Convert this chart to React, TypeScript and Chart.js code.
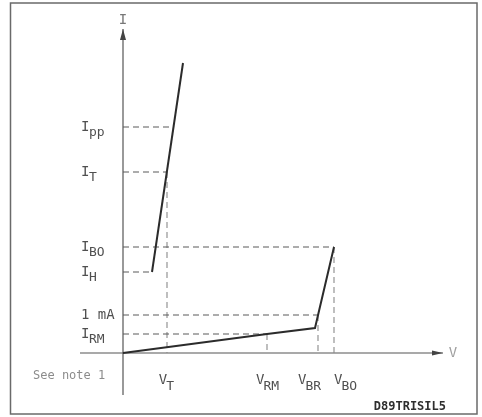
import { useEffect, useRef } from "react";
import { Chart, registerables } from "chart.js";

Chart.register(...registerables);

// ---- Data (schematic units: V along x, I along y) ----
const offStateV = [0, 14.4, 19.2, 21.1];
const offStateI = [0, 1.9, 2.5, 10.6];
const onStateV = [2.9, 6.0];
const onStateI = [8.1, 29.0];

const currentSubs = ["pp", "T", "BO", "H", "", "RM"];
const currentMain = ["I", "I", "I", "I", "1 mA", "I"];
const currentLevels = [22.6, 18.1, 10.6, 8.1, 3.8, 1.9];
const currentEndV = [5.05, 4.4, 21.1, 2.9, 19.5, 14.4];

const voltageSubs = ["T", "RM", "BR", "BO"];
const voltageLevels = [4.4, 14.4, 19.5, 21.1];
const voltageStartI = [18.1, 1.9, 3.8, 10.6];

const xAxisExtent = [-4.3, 32.0];
const yAxisExtent = [-4.2, 32.4];

// label nudges (pixels) so the V labels do not collide
const voltageLabelNudge = [0, 1, -8, 12];

const FONT = '"DejaVu Sans Mono", "Liberation Mono", monospace';

export default function App() {
  const ref = useRef<HTMLCanvasElement | null>(null);

  useEffect(() => {
    if (!ref.current) return;
    const curveStyle = { borderColor: "#2b2b2b", borderWidth: 2 };
    const datasets: any[] = [];
    datasets.push({
      data: offStateV.map((v, i) => ({ x: v, y: offStateI[i] })),
      ...curveStyle,
    });
    datasets.push({
      data: onStateV.map((v, i) => ({ x: v, y: onStateI[i] })),
      ...curveStyle,
    });
    currentLevels.forEach((lvl, i) => {
      datasets.push({
        data: [
          { x: 0, y: lvl },
          { x: currentEndV[i], y: lvl },
        ],
        borderColor: "#5a5a5a",
        borderWidth: 1.2,
        borderDash: [6, 4],
      });
    });
    voltageLevels.forEach((v, i) => {
      datasets.push({
        data: [
          { x: v, y: voltageStartI[i] },
          { x: v, y: 0 },
        ],
        borderColor: "#8a8a8a",
        borderWidth: 1.1,
        borderDash: [6, 4],
      });
    });
    datasets.push({
      data: [
        { x: xAxisExtent[0], y: 0 },
        { x: xAxisExtent[1], y: 0 },
      ],
      borderColor: "#555",
      borderWidth: 1.2,
    });
    datasets.push({
      data: [
        { x: 0, y: yAxisExtent[0] },
        { x: 0, y: yAxisExtent[1] },
      ],
      borderColor: "#555",
      borderWidth: 1.2,
    });

    const decor = {
      id: "decor",
      afterDatasetsDraw(chart: any) {
        const ctx = chart.ctx as CanvasRenderingContext2D;
        const xs = chart.scales.x;
        const ys = chart.scales.y;
        const px = (v: number) => xs.getPixelForValue(v);
        const py = (v: number) => ys.getPixelForValue(v);
        const ox = px(0);
        const oy = py(0);
        ctx.save();

        // frame
        ctx.strokeStyle = "#6a6a6a";
        ctx.lineWidth = 1.5;
        ctx.strokeRect(10.5, 3, 466.5, 411);

        // arrowheads
        ctx.fillStyle = "#444";
        const yt = py(yAxisExtent[1]);
        ctx.beginPath();
        ctx.moveTo(ox, yt);
        ctx.lineTo(ox - 3, yt + 11);
        ctx.lineTo(ox + 3, yt + 11);
        ctx.closePath();
        ctx.fill();
        const xt = px(xAxisExtent[1]);
        ctx.beginPath();
        ctx.moveTo(xt, oy);
        ctx.lineTo(xt - 11, oy - 2.5);
        ctx.lineTo(xt - 11, oy + 2.5);
        ctx.closePath();
        ctx.fill();

        ctx.textBaseline = "middle";
        const MAIN = `14px ${FONT}`;
        const SUB = `13px ${FONT}`;
        // axis names
        ctx.fillStyle = "#777";
        ctx.font = MAIN;
        ctx.textAlign = "center";
        ctx.fillText("I", ox, 20);
        ctx.fillStyle = "#a0a0a0";
        ctx.fillText("V", xt + 10, oy);

        // current labels
        ctx.textAlign = "left";
        ctx.fillStyle = "#505050";
        currentLevels.forEach((lvl, i) => {
          const y = py(lvl);
          ctx.font = MAIN;
          ctx.fillText(currentMain[i], ox - 42, y);
          if (currentSubs[i]) {
            ctx.font = SUB;
            ctx.fillText(currentSubs[i], ox - 34, y + 6);
          }
        });

        // voltage labels
        voltageLevels.forEach((v, i) => {
          ctx.font = MAIN;
          const w1 = ctx.measureText("V").width;
          ctx.font = SUB;
          const w2 = ctx.measureText(voltageSubs[i]).width;
          const cx = px(v) + voltageLabelNudge[i];
          const left = cx - (w1 + w2) / 2;
          ctx.font = MAIN;
          ctx.fillText("V", left, 380);
          ctx.font = SUB;
          ctx.fillText(voltageSubs[i], left + w1 - 1, 387);
        });

        // notes
        ctx.fillStyle = "#8c8c8c";
        ctx.font = `12px ${FONT}`;
        ctx.fillText("See note 1", 33, 376);
        ctx.fillStyle = "#2e2e2e";
        ctx.font = `bold 12px ${FONT}`;
        ctx.textAlign = "right";
        ctx.fillText("D89TRISIL5", 446, 407);
        ctx.restore();
      },
    };

    const chart = new Chart(ref.current, {
      type: "scatter",
      data: { datasets },
      options: {
        animation: false,
        responsive: false,
        events: [],
        layout: { padding: 0, autoPadding: false } as any,
        elements: { point: { radius: 0 }, line: { tension: 0 } },
        datasets: { scatter: { showLine: true, clip: false } as any },
        scales: {
          x: { type: "linear", display: false, min: -12.3, max: 35.9 },
          y: { type: "linear", display: false, min: -6.4, max: 35.3 },
        },
        plugins: { legend: { display: false }, tooltip: { enabled: false } },
      },
      plugins: [decor],
    });
    return () => chart.destroy();
  }, []);

  return (
    <div
      style={{
        position: "fixed",
        left: 0,
        top: 0,
        width: 482,
        height: 417,
        background: "#fff",
      }}
    >
      <canvas ref={ref} width={482} height={417} />
    </div>
  );
}
